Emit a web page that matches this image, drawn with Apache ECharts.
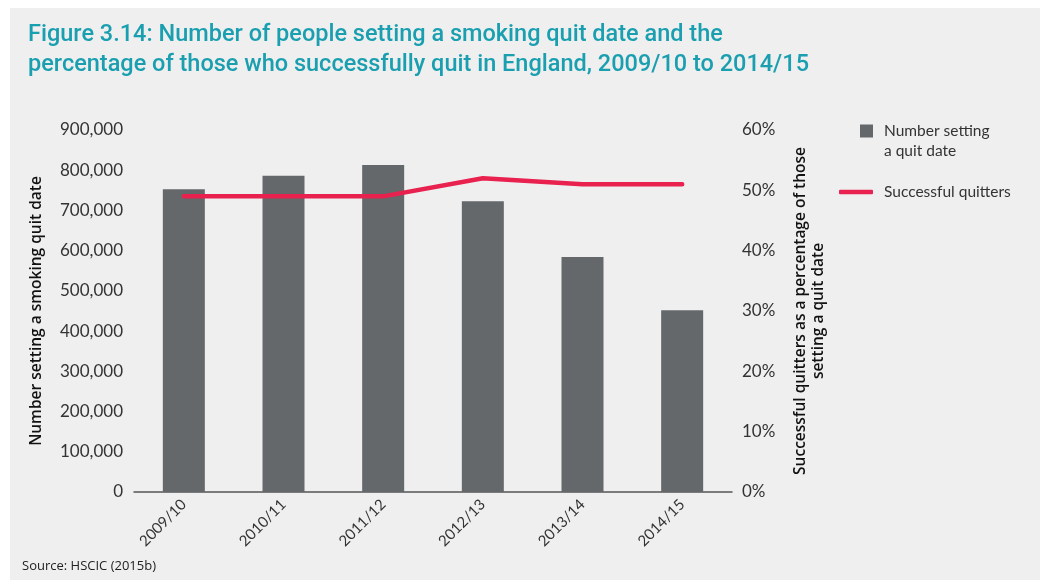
<!DOCTYPE html>
<html>
<head>
<meta charset="utf-8">
<script src="https://cdn.jsdelivr.net/npm/echarts@6/dist/echarts.min.js"></script>
<style>
  html, body { margin: 0; padding: 0; background: #ffffff; }
  #chart { width: 1040px; height: 580px; }
</style>
</head>
<body>
<div id="chart"></div>
<script>
// Financial years shown on the category axis
const years = ['2009/10', '2010/11', '2011/12', '2012/13', '2013/14', '2014/15'];
// Number of people setting a quit date
const quitDates = [753000, 786000, 813000, 723000, 584000, 452000];
// Successful quitters as a percentage of those setting a quit date
const successPct = [49, 49, 49, 52, 51, 51];
// Left axis ticks (people) and right axis ticks (percent)
const leftMax = 900000, leftStep = 100000;
const rightMax = 60, rightStep = 10;

const barColor = '#65686b';
const lineColor = '#e8214f';
const tickFont = 'Lato';

// Square legend marker sitting level with the first line of a two-line label
const squareIcon = 'path://M0,0L0.01,0M0,3.5h13v13h-13zM0,40L0.01,40';

const chart = echarts.init(document.getElementById('chart'), null, { renderer: 'canvas' });

chart.setOption({
  backgroundColor: '#ffffff',
  animation: false,
  graphic: [
    {
      type: 'rect', left: 10, top: 8, z: -10,
      shape: { width: 1030, height: 572 },
      style: { fill: '#efefef' }
    },
    {
      type: 'text', left: 28, top: 20,
      style: {
        text: 'Figure 3.14: Number of people setting a smoking quit date and the\npercentage of those who successfully quit in England, 2009/10 to 2014/15',
        fill: '#1a9fb0', font: '500 23.5px Roboto', lineHeight: 30
      }
    },
    {
      type: 'text', left: 22, top: 560,
      style: { text: 'Source: HSCIC (2015b)', fill: '#222', font: '13px "Open Sans"' }
    }
  ],
  grid: { left: 134, right: 308, top: 130, bottom: 88 },
  legend: [
    {
      data: [{ name: 'Number setting\na quit date', icon: squareIcon }],
      left: 860, top: 121, orient: 'vertical', padding: 0,
      itemWidth: 13, itemHeight: 40, itemGap: 10,
      textStyle: { fontFamily: tickFont, fontSize: 15.5, color: '#333', lineHeight: 20, padding: [0, 0, 0, 6] }
    },
    {
      data: [{ name: 'Successful quitters', icon: 'roundRect' }],
      left: 839, top: 182, padding: 0,
      itemWidth: 34, itemHeight: 4.5, itemGap: 10,
      textStyle: { fontFamily: tickFont, fontSize: 15.5, color: '#333', lineHeight: 20, padding: [0, 0, 0, 6] }
    }
  ],
  xAxis: {
    type: 'category',
    data: years,
    axisLine: { lineStyle: { color: '#555', width: 1.5 } },
    axisTick: { alignWithLabel: false, length: 7, lineStyle: { color: '#555', width: 1.5 } },
    axisLabel: { rotate: 45, color: '#333', fontFamily: tickFont, fontSize: 15, margin: 10 }
  },
  yAxis: [
    {
      type: 'value', min: 0, max: leftMax, interval: leftStep,
      name: 'Number setting a smoking quit date',
      nameLocation: 'middle', nameRotate: 90, nameGap: 89,
      nameTextStyle: { fontFamily: '"Open Sans"', fontWeight: 600, fontSize: 15.5, color: '#111' },
      axisLine: { show: false }, axisTick: { show: false }, splitLine: { show: false },
      axisLabel: {
        color: '#333', fontFamily: tickFont, fontSize: 17, margin: 11,
        formatter: v => v.toLocaleString('en-GB')
      }
    },
    {
      type: 'value', min: 0, max: rightMax, interval: rightStep, position: 'right',
      name: 'Successful quitters as a percentage of those\nsetting a quit date',
      nameLocation: 'middle', nameRotate: 90, nameGap: 60,
      nameTextStyle: { fontFamily: '"Open Sans"', fontWeight: 600, fontSize: 15.5, color: '#111', lineHeight: 18, align: 'center' },
      axisLine: { show: false }, axisTick: { show: false }, splitLine: { show: false },
      axisLabel: { color: '#333', fontFamily: tickFont, fontSize: 17, margin: 10, formatter: '{value}%' }
    }
  ],
  series: [
    {
      name: 'Number setting\na quit date',
      type: 'bar', yAxisIndex: 0, data: quitDates,
      barWidth: 42, itemStyle: { color: barColor }
    },
    {
      name: 'Successful quitters',
      type: 'line', yAxisIndex: 1, data: successPct,
      showSymbol: false, symbol: 'none',
      lineStyle: { color: lineColor, width: 4.5, cap: 'round', join: 'round' },
      itemStyle: { color: lineColor }
    }
  ]
});
</script>
</body>
</html>
